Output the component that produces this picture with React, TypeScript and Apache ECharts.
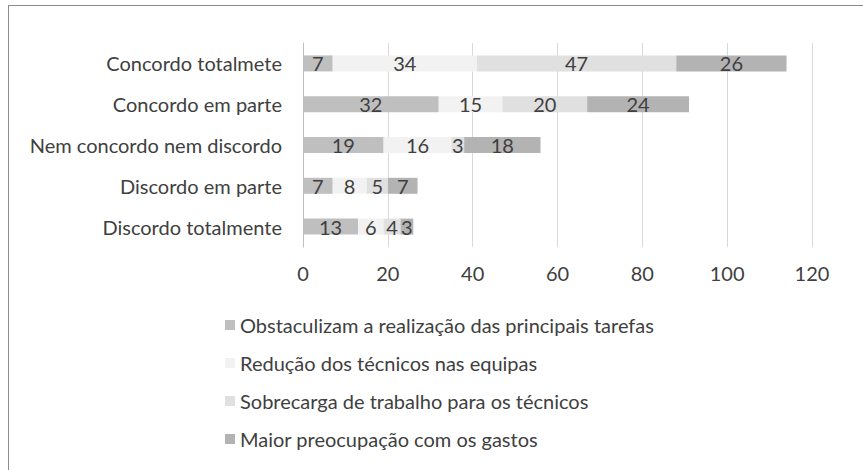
import React, { useEffect, useRef } from "react";
import * as echarts from "echarts";

const categories = [
  "Concordo totalmete",
  "Concordo em parte",
  "Nem concordo nem discordo",
  "Discordo em parte",
  "Discordo totalmente",
];
const seriesNames = [
  "Obstaculizam a realização das principais tarefas",
  "Redução dos técnicos nas equipas",
  "Sobrecarga de trabalho para os técnicos",
  "Maior preocupação com os gastos",
];
const obstaculizam = [7, 32, 19, 7, 13];
const reducao = [34, 15, 16, 8, 6];
const sobrecarga = [47, 20, 3, 5, 4];
const preocupacao = [26, 24, 18, 7, 3];
const seriesColors = ["#bfbfbf", "#f2f2f2", "#e0e0e0", "#b3b3b3"];

const FONT = "Lato, 'Open Sans', sans-serif";
const TXT = "#404040";
const FS = 20;

export default function App() {
  const ref = useRef<HTMLDivElement>(null);
  useEffect(() => {
    if (!ref.current) return;
    const chart = echarts.init(ref.current, null, { renderer: "svg" });
    const values = [obstaculizam, reducao, sobrecarga, preocupacao];
    chart.setOption({
      animation: false,
      backgroundColor: "#ffffff",
      textStyle: { fontFamily: FONT },
      graphic: [
        { type: "line", shape: { x1: 8, y1: 5.5, x2: 863, y2: 5.5 }, style: { stroke: "#8c8c8c", lineWidth: 1 } },
        { type: "line", shape: { x1: 8.5, y1: 5, x2: 8.5, y2: 470 }, style: { stroke: "#8c8c8c", lineWidth: 1 } },
      ],
      grid: { left: 303, right: 51, top: 43, bottom: 223, containLabel: false },
      legend: {
        orient: "vertical",
        left: 225,
        top: 315,
        padding: 0,
        icon: "rect",
        itemWidth: 10,
        itemHeight: 10,
        itemGap: 18,
        textStyle: { fontFamily: FONT, fontSize: FS, color: TXT, lineHeight: 20 },
        data: seriesNames,
      },
      xAxis: {
        type: "value",
        min: 0,
        max: 120,
        interval: 20,
        axisLine: { show: false },
        axisTick: { show: false },
        splitLine: { show: true, lineStyle: { color: "#d9d9d9", width: 1 } },
        axisLabel: { fontFamily: FONT, fontSize: FS, color: TXT, margin: 16 },
      },
      yAxis: {
        type: "category",
        inverse: true,
        data: categories,
        axisLine: { show: true, lineStyle: { color: "#bfbfbf" } },
        axisTick: { show: false },
        axisLabel: { fontFamily: FONT, fontSize: FS, color: TXT, margin: 21 },
      },
      series: seriesNames.map((name, i) => ({
        name,
        type: "bar",
        stack: "total",
        data: values[i],
        barWidth: 16,
        itemStyle: { color: seriesColors[i] },
        label: {
          show: true,
          position: "inside",
          color: TXT,
          fontFamily: FONT,
          fontSize: FS,
        },
      })),
    });
    return () => chart.dispose();
  }, []);
  return (
    <div
      ref={ref}
      style={{ position: "fixed", left: 0, top: 0, width: 863, height: 470 }}
    />
  );
}
